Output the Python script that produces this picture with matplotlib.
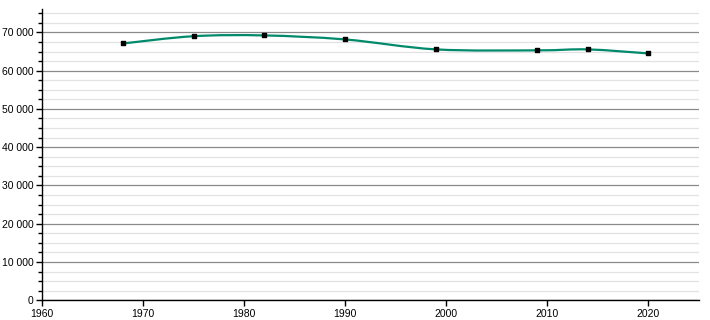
import numpy as np
import matplotlib.pyplot as plt
from matplotlib.path import Path
from matplotlib.patches import PathPatch
from matplotlib.ticker import MultipleLocator, FuncFormatter

plt.rcParams['font.family'] = ['Liberation Sans', 'DejaVu Sans']

years = [1968, 1975, 1982, 1990, 1999, 2009, 2014, 2020]
population = [67100, 69000, 69200, 68150, 65550, 65300, 65550, 64500]

fig = plt.figure(figsize=(7.1, 3.2), dpi=100)
ax = fig.add_axes([0.0592, 0.0616, 0.9253, 0.909])

# smooth curve through the points (catmull-rom as bezier segments)
x = np.array(years, dtype=float)
y = np.array(population, dtype=float)
verts = [(x[0], y[0])]
codes = [Path.MOVETO]
for i in range(len(x) - 1):
    x0, y0 = (x[i - 1], y[i - 1]) if i > 0 else (x[i], y[i])
    x3, y3 = (x[i + 2], y[i + 2]) if i + 2 < len(x) else (x[i + 1], y[i + 1])
    c1 = (x[i] + (x[i + 1] - x0) / 6, y[i] + (y[i + 1] - y0) / 6)
    c2 = (x[i + 1] - (x3 - x[i]) / 6, y[i + 1] - (y3 - y[i]) / 6)
    verts += [c1, c2, (x[i + 1], y[i + 1])]
    codes += [Path.CURVE4] * 3
ax.add_patch(PathPatch(Path(verts, codes), facecolor='none',
                       edgecolor='#008a6b', lw=1.6, zorder=3))
ax.scatter(years, population, marker='s', s=10, color='black', zorder=4)

ax.set_xlim(1960, 2025)
ax.set_ylim(0, 76000)
ax.xaxis.set_major_locator(MultipleLocator(10))
ax.yaxis.set_major_locator(MultipleLocator(10000))
ax.yaxis.set_minor_locator(MultipleLocator(2500))
ax.yaxis.set_major_formatter(FuncFormatter(lambda v, p: f'{int(v):,}'.replace(',', ' ')))

ax.grid(axis='y', which='major', color='#8a8a8a', lw=0.9)
ax.grid(axis='y', which='minor', color='#e2e2e2', lw=0.9)
ax.set_axisbelow(True)

for s in ['top', 'right']:
    ax.spines[s].set_visible(False)
ax.spines['left'].set_linewidth(1)
ax.spines['bottom'].set_linewidth(1)
ax.tick_params(axis='both', which='major', length=4, width=1, labelsize=7.5, pad=2)
ax.tick_params(axis='y', which='minor', length=3, width=1)

fig.savefig('out.png', dpi=100)
